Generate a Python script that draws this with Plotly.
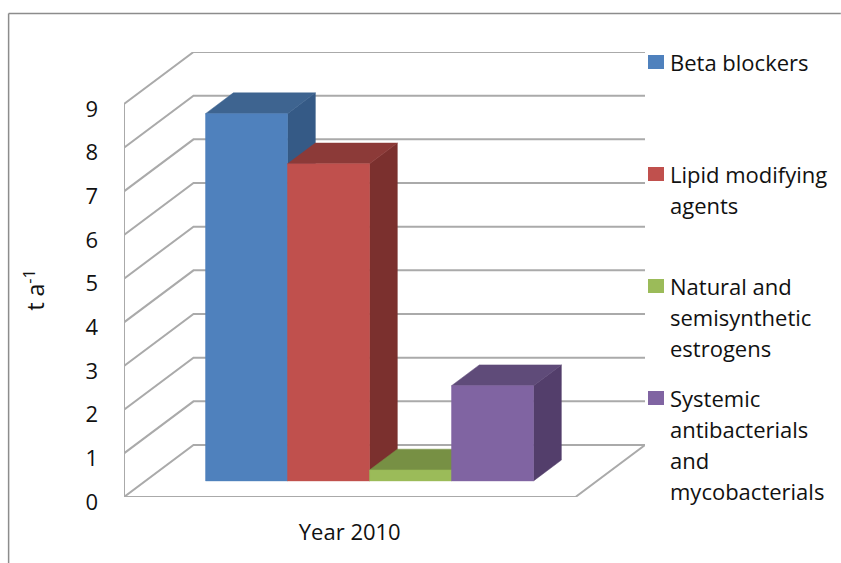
import plotly.graph_objects as go

categories = ["Beta blockers", "Lipid modifying agents", "Natural and semisynthetic estrogens", "Systemic antibacterials and mycobacterials"]
values = [8.41, 7.26, 0.25, 2.18]
front_colors = ["#4f81bd", "#c0504d", "#9bbb59", "#8064a2"]
top_colors = ["#3e6490", "#8c3a38", "#779044", "#5f4b79"]
side_colors = ["#355a86", "#7b302e", "#6a8a3e", "#533e6b"]
legend_lines = [["Beta blockers"], ["Lipid modifying", "agents"], ["Natural and", "semisynthetic", "estrogens"],
                ["Systemic", "antibacterials", "and", "mycobacterials"]]
y_ticks = list(range(10))
x_label = "Year 2010"
y_title = "t a<sup>-1</sup>"

W, H = 841, 563
L, R, T, B = 123.5, 645.0, 52.0, 497.0
PXV = (B - 104.0) / 9          # pixels per value unit
PXC = 82.0                     # pixels per category
FLOOR = (575.0 - L) / PXC      # floor width in categories
DX, DY = (193.0 - L) / PXC, (B - 52.0 - 9 * PXV) / PXV   # wall depth offset
GAP = (206.0 - L - 22.5) / PXC # gap before first bar
D0, D1 = 0.31, 0.71            # bar depth range (fraction of the floor depth)
GRID = "#aaaaaa"
FONT = "Open Sans"
FS = 22

def proj(x, v, d):
    return x + d * DX, v + d * DY

def face(pts, color):
    xs, ys = zip(*pts)
    return go.Scatter(x=list(xs) + [xs[0]], y=list(ys) + [ys[0]], mode="lines", fill="toself", fillcolor=color,
                      line=dict(color=color, width=0.5), hoverinfo="skip", showlegend=False, cliponaxis=False)

def path(pts):
    xs, ys = zip(*pts)
    return go.Scatter(x=list(xs), y=list(ys), mode="lines", line=dict(color=GRID, width=2),
                      hoverinfo="skip", showlegend=False, cliponaxis=False)

fig = go.Figure()
for t in y_ticks:
    fig.add_trace(path([proj(0, t, 0), proj(0, t, 1), proj(FLOOR, t, 1)]))
fig.add_trace(path([(0, 0), (0, y_ticks[-1])]))
fig.add_trace(path([proj(FLOOR, 0, 1), proj(FLOOR, 0, 0), (0, 0)]))

for i, v in enumerate(values):
    a, b = GAP + i, GAP + i + 1
    fig.add_trace(face([proj(b, 0, D0), proj(b, 0, D1), proj(b, v, D1), proj(b, v, D0)], side_colors[i]))
    fig.add_trace(face([proj(a, v, D0), proj(b, v, D0), proj(b, v, D1), proj(a, v, D1)], top_colors[i]))
    fig.add_trace(face([proj(a, 0, D0), proj(b, 0, D0), proj(b, v, D0), proj(a, v, D0)], front_colors[i]))

def px(x): return (x - L) / (R - L)
def py(y): return (B - y) / (B - T)

shapes = [dict(type="line", xref="paper", yref="paper", x0=px(8), x1=px(841), y0=py(13.5), y1=py(13.5),
               line=dict(color="#8c8c8c", width=1.5)),
          dict(type="line", xref="paper", yref="paper", x0=px(8), x1=px(8), y0=py(13.5), y1=py(563),
               line=dict(color="#8c8c8c", width=1.5))]
annotations = []
tops = [55, 167, 279, 391]
for c, lines, top, col in zip(categories, legend_lines, tops, front_colors):
    shapes.append(dict(type="rect", xref="paper", yref="paper", x0=px(648), x1=px(664), y0=py(top), y1=py(top + 14),
                       fillcolor=col, line=dict(width=0)))
    for j, ln in enumerate(lines):
        annotations.append(dict(text=ln, xref="paper", yref="paper", x=px(668), y=py(top + 7 + j * 31),
                                xanchor="left", yanchor="middle", showarrow=False,
                                font=dict(family=FONT, size=FS, color="#111111")))
annotations.append(dict(text=y_title, xref="paper", yref="paper", x=px(34), y=py(290), textangle=-90,
                        xanchor="center", yanchor="middle", showarrow=False,
                        font=dict(family=FONT, size=23, color="#111111")))

fig.update_layout(
    width=W, height=H, margin=dict(l=L, r=W - R, t=T, b=H - B, pad=0, autoexpand=False),
    paper_bgcolor="white", plot_bgcolor="white", showlegend=False, shapes=shapes, annotations=annotations,
    font=dict(family=FONT, size=FS, color="#111111"),
    xaxis=dict(range=[0, FLOOR + DX], showgrid=False, zeroline=False, showline=False, tickmode="array",
               tickvals=[FLOOR / 2], ticktext=[x_label], ticks="", ticklabelstandoff=20,
               tickfont=dict(family=FONT, size=FS)),
    yaxis=dict(range=[0, (B - T) / PXV], showgrid=False, zeroline=False, showline=False, tickmode="array",
               tickvals=y_ticks, ticktext=[str(t) for t in y_ticks], ticks="", ticklabelstandoff=25,
               ticklabelshift=5, tickfont=dict(family=FONT, size=FS)),
)
fig.write_html("out.html", config={"displayModeBar": False},
               post_script="document.body.style.margin='0';document.documentElement.style.overflow='hidden';")
